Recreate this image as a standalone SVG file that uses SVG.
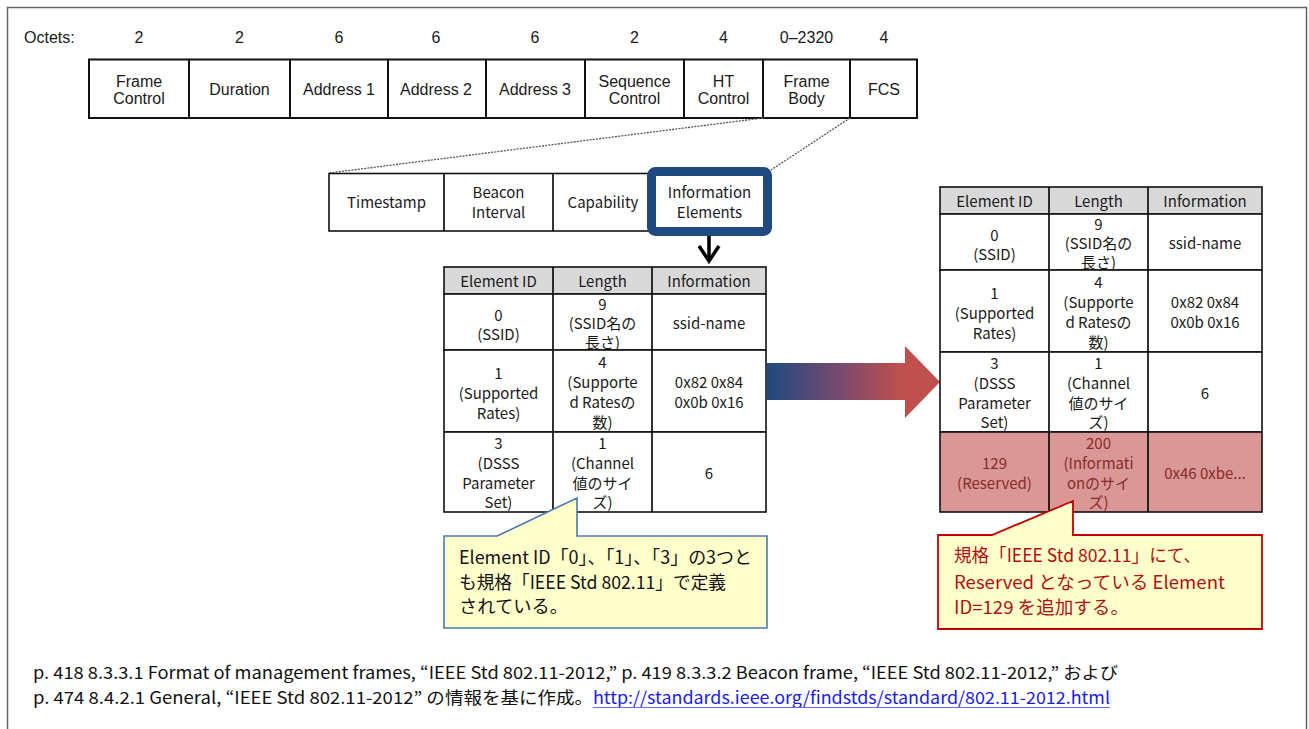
<svg xmlns="http://www.w3.org/2000/svg" width="1309" height="729" viewBox="0 0 1309 729">
<style>
.frm{font-family:"Liberation Sans",Arial,sans-serif;font-size:16px;fill:#1a1a1a;text-anchor:middle}
.cell{font-family:"Noto Sans CJK JP","Noto Sans",sans-serif;font-size:15px;fill:#1a1a1a;text-anchor:middle}
.red{fill:#8a2a2a}
.ln{stroke:#000;stroke-width:1.6;fill:none}
.tb{fill:#fff;stroke:#111;stroke-width:1.6}
.hd{fill:#d9d9d9;stroke:#111;stroke-width:1.6}
.rr{fill:#d99795;stroke:#111;stroke-width:1.6}
.dot{stroke:#555;stroke-width:1.3;stroke-dasharray:2 1.2;fill:none}
.call{font-family:"Noto Sans CJK JP","Noto Sans",sans-serif;font-size:18px}
.foot{font-family:"Noto Sans CJK JP","Noto Sans",sans-serif;font-size:17px}
</style>
<defs>
<linearGradient id="grad" gradientUnits="userSpaceOnUse" x1="767" y1="0" x2="940" y2="0">
<stop offset="0" stop-color="#1f4a80"/>
<stop offset="0.4" stop-color="#744a70"/>
<stop offset="0.78" stop-color="#c0504d"/>
<stop offset="1" stop-color="#c0504d"/>
</linearGradient>
</defs>
<rect width="1309" height="729" fill="#fff"/>
<path d="M7.5,729 V7.5 H1306.5 V729" fill="none" stroke="#666" stroke-width="1.5"/>

<g id="mac-frame">
<text class="frm" x="24" y="43" style="text-anchor:start">Octets:</text>
<text class="frm" x="139" y="43">2</text>
<text class="frm" x="239.5" y="43">2</text>
<text class="frm" x="339" y="43">6</text>
<text class="frm" x="436" y="43">6</text>
<text class="frm" x="535" y="43">6</text>
<text class="frm" x="634.5" y="43">2</text>
<text class="frm" x="723.5" y="43">4</text>
<text class="frm" x="806.5" y="43">0–2320</text>
<text class="frm" x="884" y="43">4</text>
<rect x="89" y="59.5" width="828" height="58.5" fill="#fff" stroke="#111" stroke-width="2"/>
<path d="M189,59.5V118 M290,59.5V118 M388,59.5V118 M486,59.5V118 M585,59.5V118 M684,59.5V118 M763,59.5V118 M850,59.5V118" stroke="#111" stroke-width="2"/>
<text class="frm" x="139" y="87">Frame</text>
<text class="frm" x="139" y="104">Control</text>
<text class="frm" x="239.5" y="95">Duration</text>
<text class="frm" x="339" y="95">Address 1</text>
<text class="frm" x="436" y="95">Address 2</text>
<text class="frm" x="535" y="95">Address 3</text>
<text class="frm" x="634.5" y="87">Sequence</text>
<text class="frm" x="634.5" y="104">Control</text>
<text class="frm" x="723.5" y="87">HT</text>
<text class="frm" x="723.5" y="104">Control</text>
<text class="frm" x="806.5" y="87">Frame</text>
<text class="frm" x="806.5" y="104">Body</text>
<text class="frm" x="884" y="95">FCS</text>
</g>

<g id="connectors">
<path class="dot" d="M763,118 L329,173"/>
<path class="dot" d="M850,118 L771,170"/>
<path d="M709,236 V261" stroke="#000" stroke-width="3.5" fill="none"/>
<path d="M699,246 L709,261 L719,246" stroke="#000" stroke-width="3.5" fill="none"/>
<polygon points="767,363 905,363 905,346 940,382 905,418 905,400 767,400" fill="url(#grad)"/>
</g>

<g id="beacon-body">
<rect x="329" y="173.5" width="330" height="57.5" class="tb"/>
<path d="M444,173.5V231 M553,173.5V231" class="ln"/>
<rect x="651.5" y="171.5" width="116" height="60" rx="4" fill="#fff" stroke="#1f4a80" stroke-width="9"/>
<text class="cell" x="386.5" y="208">Timestamp</text>
<text class="cell" x="498.5" y="198">Beacon</text>
<text class="cell" x="498.5" y="218">Interval</text>
<text class="cell" x="603" y="208">Capability</text>
<text class="cell" x="709.5" y="198">Information</text>
<text class="cell" x="709.5" y="218">Elements</text>
</g>

<g id="table-before" transform="translate(-496,80)">
<rect x="940" y="187" width="322" height="27" class="hd"/>
<rect x="940" y="214" width="322" height="56" class="tb"/>
<rect x="940" y="270" width="322" height="82" class="tb"/>
<rect x="940" y="352" width="322" height="80" class="tb"/>
<path d="M1049,187V432 M1148,187V432" class="ln"/>
<text class="cell" x="994.5" y="207">Element ID</text>
<text class="cell" x="1098.5" y="207">Length</text>
<text class="cell" x="1205" y="207">Information</text>
<text class="cell" x="994.5" y="241">0</text>
<text class="cell" x="994.5" y="260">(SSID)</text>
<text class="cell" x="1098.5" y="230">9</text>
<text class="cell" x="1098.5" y="249">(SSID名の</text>
<text class="cell" x="1098.5" y="268">長さ)</text>
<text class="cell" x="1205" y="249">ssid-name</text>
<text class="cell" x="994.5" y="299">1</text>
<text class="cell" x="994.5" y="319">(Supported</text>
<text class="cell" x="994.5" y="339">Rates)</text>
<text class="cell" x="1098.5" y="288">4</text>
<text class="cell" x="1098.5" y="308">(Supporte</text>
<text class="cell" x="1098.5" y="328">d Ratesの</text>
<text class="cell" x="1098.5" y="348">数)</text>
<text class="cell" x="1205" y="308">0x82 0x84</text>
<text class="cell" x="1205" y="328">0x0b 0x16</text>
<text class="cell" x="994.5" y="369">3</text>
<text class="cell" x="994.5" y="389">(DSSS</text>
<text class="cell" x="994.5" y="409">Parameter</text>
<text class="cell" x="994.5" y="428">Set)</text>
<text class="cell" x="1098.5" y="369">1</text>
<text class="cell" x="1098.5" y="389">(Channel</text>
<text class="cell" x="1098.5" y="409">値のサイ</text>
<text class="cell" x="1098.5" y="428">ズ)</text>
<text class="cell" x="1205" y="399">6</text>
</g>

<g id="table-after">
<rect x="940" y="187" width="322" height="27" class="hd"/>
<rect x="940" y="214" width="322" height="56" class="tb"/>
<rect x="940" y="270" width="322" height="82" class="tb"/>
<rect x="940" y="352" width="322" height="80" class="tb"/>
<rect x="940" y="432" width="322" height="80" class="rr"/>
<path d="M1049,187V512 M1148,187V512" class="ln"/>
<text class="cell" x="994.5" y="207">Element ID</text>
<text class="cell" x="1098.5" y="207">Length</text>
<text class="cell" x="1205" y="207">Information</text>
<text class="cell" x="994.5" y="241">0</text>
<text class="cell" x="994.5" y="260">(SSID)</text>
<text class="cell" x="1098.5" y="230">9</text>
<text class="cell" x="1098.5" y="249">(SSID名の</text>
<text class="cell" x="1098.5" y="268">長さ)</text>
<text class="cell" x="1205" y="249">ssid-name</text>
<text class="cell" x="994.5" y="299">1</text>
<text class="cell" x="994.5" y="319">(Supported</text>
<text class="cell" x="994.5" y="339">Rates)</text>
<text class="cell" x="1098.5" y="288">4</text>
<text class="cell" x="1098.5" y="308">(Supporte</text>
<text class="cell" x="1098.5" y="328">d Ratesの</text>
<text class="cell" x="1098.5" y="348">数)</text>
<text class="cell" x="1205" y="308">0x82 0x84</text>
<text class="cell" x="1205" y="328">0x0b 0x16</text>
<text class="cell" x="994.5" y="369">3</text>
<text class="cell" x="994.5" y="389">(DSSS</text>
<text class="cell" x="994.5" y="409">Parameter</text>
<text class="cell" x="994.5" y="428">Set)</text>
<text class="cell" x="1098.5" y="369">1</text>
<text class="cell" x="1098.5" y="389">(Channel</text>
<text class="cell" x="1098.5" y="409">値のサイ</text>
<text class="cell" x="1098.5" y="428">ズ)</text>
<text class="cell" x="1205" y="399">6</text>
<text class="cell red" x="994.5" y="469">129</text>
<text class="cell red" x="994.5" y="489">(Reserved)</text>
<text class="cell red" x="1098.5" y="449">200</text>
<text class="cell red" x="1098.5" y="469">(Informati</text>
<text class="cell red" x="1098.5" y="489">onのサイ</text>
<text class="cell red" x="1098.5" y="508">ズ)</text>
<text class="cell red" x="1205" y="479">0x46 0xbe...</text>
</g>

<g id="callout-defined">
<path d="M444,536 H497 L577,498 V536 H767 V628 H444 Z" fill="#ffffcc" stroke="#4a78b5" stroke-width="1.6"/>
<text class="call" x="459" y="564" fill="#111" textLength="293" lengthAdjust="spacingAndGlyphs">Element ID「0」、「1」、「3」の3つと</text>
<text class="call" x="459" y="589" fill="#111" textLength="267" lengthAdjust="spacingAndGlyphs">も規格「IEEE Std 802.11」で定義</text>
<text class="call" x="459" y="613" fill="#111" textLength="109" lengthAdjust="spacingAndGlyphs">されている。</text>
</g>

<g id="callout-reserved">
<path d="M938,535 H992 L1073,501 V535 H1262 V629 H938 Z" fill="#ffffcc" stroke="#c00000" stroke-width="1.8"/>
<text class="call" x="954" y="562" fill="#b01010" textLength="247" lengthAdjust="spacingAndGlyphs">規格「IEEE Std 802.11」にて、</text>
<text class="call" x="954" y="589" fill="#b01010" textLength="271" lengthAdjust="spacingAndGlyphs">Reserved となっている Element</text>
<text class="call" x="954" y="614" fill="#b01010" textLength="175" lengthAdjust="spacingAndGlyphs">ID=129 を追加する。</text>
</g>

<g id="footer">
<text class="foot" x="33" y="679" fill="#111" textLength="1085" lengthAdjust="spacingAndGlyphs">p. 418 8.3.3.1 Format of management frames, “IEEE Std 802.11-2012,” p. 419 8.3.3.2 Beacon frame, “IEEE Std 802.11-2012,” および</text>
<text class="foot" x="33" y="704" fill="#111" textLength="560" lengthAdjust="spacingAndGlyphs">p. 474 8.4.2.1 General, “IEEE Std 802.11-2012” の情報を基に作成。</text>
<text class="foot" x="593" y="704" fill="#1a1ae6" textLength="517" lengthAdjust="spacingAndGlyphs">http://standards.ieee.org/findstds/standard/802.11-2012.html</text>
<line x1="593" y1="707.5" x2="1110" y2="707.5" stroke="#6b6bf0" stroke-width="1"/>
</g>
</svg>
